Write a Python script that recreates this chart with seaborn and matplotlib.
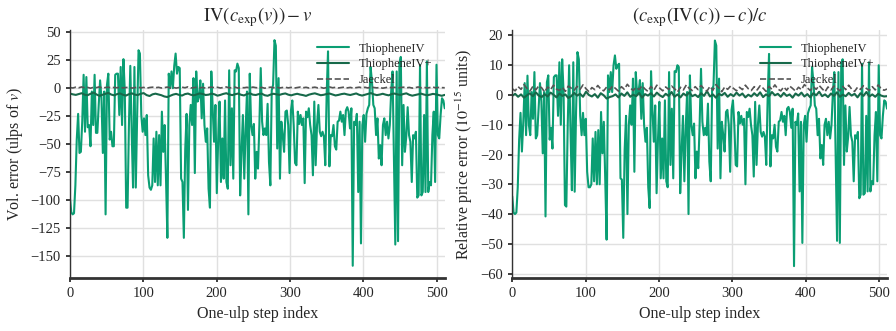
import numpy as np
import matplotlib
matplotlib.use("Agg")
import matplotlib.pyplot as plt
import seaborn as sns

# ThiopheneIV, vol error (ulps of v)
tiv_vol = [-98, -111, -113, -112, -87, -46, -23, -58, -57, -30, 12, -39, 10, -35, -33, -52, -3, -33, 12, -40,
           -40, -15, 7, -9, -58, -3, -113, 3, 13, -46, -39, -52, -52, 12, 13, 13, -24, 19, -33, 26,
           -3, -107, -107, -33, 20, -39, -89, 19, -89, -24, 34, 31, -24, -39, -27, -42, -24, -78, -89, -91,
           -87, -45, -84, -39, -87, -42, -87, -21, -57, -33, -81, -134, 13, 0, 15, 0, 20, 31, 13, 19,
           18, -81, -84, -134,
           -55, -23, -109, -33, -15, -33, 9, -76, 15, -12, -8, 7, -27, 4, -33, -48, -36, -90, -107, 15,
           -18, -48, -15, -94, -46, -12, -84, -45, -81, -11, -84, -90, 16, -69, -18, -81, 16, 15, 22, 18,
           -96, -57, -24, -81, -36, -3, -113, 13, -33, -42, -32, -81, -57, -72, -33, 18, -30, -42, -36, -42,
           -14, -66, -87, -2, 3, 43, 38, -54, 9, -81, -30, -42, -57, -21, -20, -33, -76, -20, -11, -33,
           -67, -69, -21, -32, -24, -33, -27, -85, -21, -26, -18, -33, -42,
           -78, -12, -69, -33, -15, -39, -43, -39, -43, -69, -6, 33, -70, -42, -43, -33, -52, -55, -30, -29,
           -21, -30, -24, -42, -20, -17, -21, -36, -18, -159, -30, -33, -23, -93, -30, -139, -33, -24, -48, -23,
           -18, -15, 19, 6, -15, -18, -42, -27, -63, -51, -69, -33, -27, -42, -30, -45, -33, -3, 15, -60,
           -140, 15, -137, 21, 28, -69, -15, -57, -43, -17, -42, -48, -84, -42, -45, -39, -98, -96, 21, -96,
           -93, -24, -93, 24, -93, -84, -87, -42, -21, -84, 21, -42, -45, -24, -9, -11, -18]

# ThiopheneIV+, vol error, one value every 4 steps
tivp_vol = [-4.8, -5.5, -6.0, -5.2, -4.5, -5.8, -6.3, -5.0, -3.9, -5.6, -6.8, -5.9, -5.1, -4.2, -5.7, -6.4,
            -5.3, -4.7, -5.9, -6.6, -5.4, -4.6, -5.8, -6.1, -5.0, -4.4, -6.2, -7.0, -5.5, -4.9, -5.6, -6.3,
            -7.4, -7.9, -6.8, -5.7, -5.1, -6.0, -6.6, -5.3, -4.8, -5.9, -6.4, -5.6, -4.7, -5.2, -6.1, -5.8,
            -4.9, -5.5, -6.7, -6.0, -5.1, -4.5, -5.6, -6.2, -5.4, -4.8, -5.9, -6.5, -5.2, -4.6, -5.8, -6.1,
            -5.3, -4.9, -6.3, -6.8, -5.7, -5.0, -5.5, -6.0, -5.2, -4.7, -5.8, -6.4, -5.6, -5.0, -5.7, -6.2,
            -6.9, -5.8, -5.1, -4.6, -5.5, -6.3, -5.9, -5.2, -4.8, -5.7, -6.5, -6.0, -5.3, -4.9, -5.6, -6.1,
            -5.4, -4.7, -5.9, -6.6, -5.8, -5.1, -4.4, -5.5, -6.2, -5.7, -5.0, -5.8, -6.4, -5.3, -4.8, -5.6,
            -6.0, -5.2, -4.6, -5.9, -6.7, -6.1, -5.4, -4.9, -5.7, -6.3, -5.8, -5.1, -5.5, -6.2, -6.8, -6.0]

# Jaeckel, vol error
jae_vol = [0.6, 0.2, 0.9, 0.4, 1.1, 0.3, 0.7, 0.0, 0.8, 0.5, 1.2, 0.1, 0.6, 0.9, 0.3, 0.7,
           0.4, 1.0, 0.2, 0.6, 0.8, 0.1, 0.5, 1.1, 0.3, 0.7, 0.0, 0.6, 0.9, 0.4, 0.8, 0.2,
           0.5, 1.0, 0.3, 0.7, 0.1, 0.6, 0.9, 0.4, 1.2, 0.2, 0.5, 0.8, 0.3, 0.7, 0.0, 0.6,
           1.0, 0.4, 0.8, 0.2, 0.6, 1.1, 0.3, 0.5, 0.9, 0.1, 0.7, 0.4, 0.8, 0.2, 1.0, 0.5,
           0.3, 0.7, 0.0, 0.6, 0.9, 0.4, 1.1, 0.2, 0.6, 0.8, 0.3, 0.7, 0.1, 0.5, 1.0, 0.4,
           0.8, 0.2, 0.6, 0.9, 0.3, 0.7, 0.0, 0.5, 1.1, 0.4, 0.8, 0.2, 0.6, 1.0, 0.3, 0.7,
           0.1, 0.5, 0.9, 0.4, 0.8, 0.2, 1.2, 0.6, 0.3, 0.7, 0.0, 0.5, 1.0, 0.4, 0.8, 0.2,
           0.6, 0.9, 0.3, 0.7, 0.1, 0.5, 1.1, 0.4, 0.8, 0.2, 0.6, 1.0, 0.3, 0.7, 0.5, 0.4]

# ThiopheneIV, relative price error (1e-15 units)
tiv_px = [-34, -39.5, -40, -39.5, -31, -15, -6, -19, -9, 4, -13.5, 6.5, -10, -13.5, 1, -8, 7.7, -14.6, -13.5, -5,
          4, -2, -19.6, 1, -40.8, 4.3, 6.6, -15, -11, -18, 6, 6.6, 6.6, -7, 11, -10, 12, 1, -37, -37.5,
          -10, 10, -12, -32, 11, -32.5, -5.7, 14.4, 12, -7, -13.5, -6, -13.5, -8, -25.8, -31, -31, -30, -14.6, -29,
          -12.4, -30, -11.8, -30, -5.7, -19.6, -9, -28, -48.6, 6.6, 1, 7.7, 1, 10, 13.3, 8.8, 10, 10.5, -28, -28.4,
          -48,
          -18.5, -7, -40, -10, -3.5, -10, 5.5, -25.8, 7.7, 0, 1, 5, -8, 4, -10, -15.7, -11, -31, -38, 8,
          -4.6, -15.7, -3.5, -33, -15, -2.3, -28, -14.6, -28, -1.8, -29, -31, 7.7, -23.5, -4.6, -28, 8, 7.7, 10, 9.4,
          -33, -19, -7, -29, -11, 1, -40, 6.6, -10, -13.5, -9.6, -28, -19, -24.6, -10, 8.8, -9, -13.5, -11, -13.5,
          -2.9, -22.4, -29, 1.6, 3.2, 18.3, 16.6, -18, 5.5, -28, -9, -13.5, -19, -5.7, -5, -10, -25.8, -5, -1.8, -10,
          -23.5, -24, -5.7, -9.6, -7, -10, -8, -30, -5.7, -7.4, -4.6, -10, -13.5,
          -27.4, -2.3, -23.5, -10, -3.5, -12.4, -14, -12.4, -14, -23.5, -1.2, 13.8, -24, -13.5, -14.6, -10, -17.4, -19, -9, -8.5,
          -5.7, -9, -7, -13.5, -4.6, -4, -5.7, -11, -4.6, -57.5, -9, -10, -6.2, -32.4, -9, -49.7, -10, -7, -15.7, -6.2,
          -4.6, -3.5, 9.4, 4.3, -3.5, -4.6, -13.5, -8, -21.3, -16.8, -23.5, -10, -8, -13.5, -9, -14.6, -10, 1, 7.7, -20,
          -49, 7.7, -49.7, 10, 12, -23.5, -3.5, -19, -14, -4, -13.5, -15.7, -29, -13.5, -14.6, -12.4, -34.7, -33.5, 10.5, -33.5,
          -33, -7, -32.4, 11, -32.4, -29, -30, -13.5, -5.7, -29, 10, -13.5, -14.6, -7, -1.8, -2.3, -4.6]

# ThiopheneIV+, price error
tivp_px = [-0.3, 0.4, -0.6, 0.2, -0.9, -0.1, 0.6, -0.4, 0.9, -0.2, -0.7, 0.3, -0.5, 0.8, 0.1, -0.8,
           0.5, -0.3, 0.2, -1.0, -0.4, 0.7, -0.2, 0.4, -0.6, 1.1, 0.0, -0.5, 0.3, -0.9, 0.6, -0.1,
           -1.2, -0.7, -0.4, 0.2, -0.8, 0.5, -0.3, 0.9, -0.6, 0.1, -0.4, 0.7, -0.9, 0.3, -0.2, 0.6,
           -0.5, 0.8, -0.1, -0.7, 0.4, -0.3, 1.0, -0.6, 0.2, -0.8, 0.5, -0.2, 0.9, -0.4, 0.1, -0.7,
           0.6, -0.3, 1.3, -0.5, 0.2, -0.9, 0.4, -0.1, 0.7, -0.6, 0.3, -0.4, 0.8, -0.2, 0.5, -0.8,
           0.1, -0.5, 0.6, -0.3, 0.9, -0.7, 0.2, -0.4, 1.0, -0.1, 0.4, -0.6, 0.7, -0.3, 0.2, -0.9,
           0.5, -0.2, 0.8, -0.5, 0.3, -0.8, 0.6, -0.1, 1.1, -0.4, 0.2, -0.7, 0.5, -0.3, 0.9, -0.6,
           0.1, -0.4, 0.7, -0.2, 0.4, -0.8, 0.6, -0.3, 1.0, -0.5, 0.2, -0.6, 0.4, -0.2, -0.5, -0.4]

# Jaeckel, price error
jae_px = [2.1, 1.4, 2.8, 1.9, 3.5, 2.2, 1.3, 2.9, 1.7, 3.1, 2.4, 1.0, 2.7, 1.8, 3.3, 2.0,
          1.5, 2.6, 1.2, 3.0, 2.3, 1.6, 2.9, 1.9, 3.4, 2.1, 1.1, 2.5, 1.8, 3.2, 2.0, 1.4,
          2.7, 1.7, 3.0, 2.2, 1.3, 2.8, 1.9, 3.6, 2.4, 1.5, 2.6, 1.8, 3.1, 2.0, 1.2, 2.9,
          1.6, 3.3, 2.3, 1.4, 2.7, 1.9, 3.0, 2.1, 1.0, 2.6, 1.7, 3.4, 2.2, 1.5, 2.8, 1.8,
          3.2, 2.0, 1.3, 2.9, 1.6, 3.5, 2.4, 1.1, 2.7, 1.9, 3.0, 2.2, 1.4, 2.6, 1.8, 3.3,
          2.1, 1.5, 2.8, 1.7, 3.1, 2.3, 1.2, 2.9, 1.9, 3.4, 2.0, 1.4, 2.7, 1.6, 3.0, 2.2,
          1.3, 2.6, 1.8, 3.5, 2.4, 1.5, 2.8, 1.9, 3.2, 2.1, 1.1, 2.7, 1.7, 3.0, 2.3, 1.4,
          2.9, 1.8, 3.3, 2.0, 1.2, 2.6, 1.9, 3.1, 2.2, 1.5, 2.8, 1.7, 3.4, 2.1, 1.6, 2.0]

n_steps = 512
c_tiv = "#0a9e73"
c_tivp = "#17694a"
c_jae = "#555555"

sns.set_theme(context="notebook", style="ticks",
              rc={"axes.grid": True, "grid.color": ".88", "grid.linewidth": 1.0,
                  "axes.edgecolor": ".2", "axes.linewidth": 1.0})
plt.rcParams["font.family"] = ["Liberation Serif", "DejaVu Serif"]
plt.rcParams["mathtext.fontset"] = "stix"
plt.rcParams["axes.unicode_minus"] = True

fig, axes = plt.subplots(1, 2, figsize=(8.96, 3.31), dpi=100)
fig.subplots_adjust(left=0.078, right=0.990, bottom=0.160, top=0.909, wspace=0.18)

panels = [
    (axes[0], tiv_vol, tivp_vol, jae_vol, r"$\mathrm{IV}(c_{\mathrm{exp}}(v)) - v$",
     r"Vol. error (ulps of $v$)", (-170, 52), np.arange(-150, 51, 25)),
    (axes[1], tiv_px, tivp_px, jae_px, r"$(c_{\mathrm{exp}}(\mathrm{IV}(c)) - c)/c$",
     r"Relative price error ($10^{-15}$ units)", (-61.5, 21.8), np.arange(-60, 21, 10)),
]

for ax, a, b, j, title, ylab, ylim, yt in panels:
    sns.lineplot(x=np.linspace(0, n_steps - 1, len(a)), y=a, ax=ax, color=c_tiv,
                 linewidth=1.5, label="ThiopheneIV")
    sns.lineplot(x=np.linspace(0, n_steps - 1, len(b)), y=b, ax=ax, color=c_tivp,
                 linewidth=1.5, label="ThiopheneIV+")
    sns.lineplot(x=np.linspace(0, n_steps - 1, len(j)), y=j, ax=ax, color=c_jae,
                 linewidth=1.2, linestyle="--", label="Jaeckel")
    ax.set_xlim(0, n_steps - 1)
    ax.set_ylim(*ylim)
    ax.set_yticks(yt)
    ax.set_xticks(np.arange(0, 501, 100))
    ax.set_title(title, fontsize=13.5)
    ax.set_xlabel("One-ulp step index", fontsize=11.5)
    ax.set_ylabel(ylab, fontsize=11.5)
    ax.tick_params(labelsize=10.5, length=3)
    ax.legend(loc="upper right", frameon=False, fontsize=9, handlelength=2.5,
              labelspacing=0.3, borderaxespad=0.6)
    sns.despine(ax=ax)
    ax.spines["bottom"].set_linewidth(2.0)

fig.savefig("out.png", dpi=100)
